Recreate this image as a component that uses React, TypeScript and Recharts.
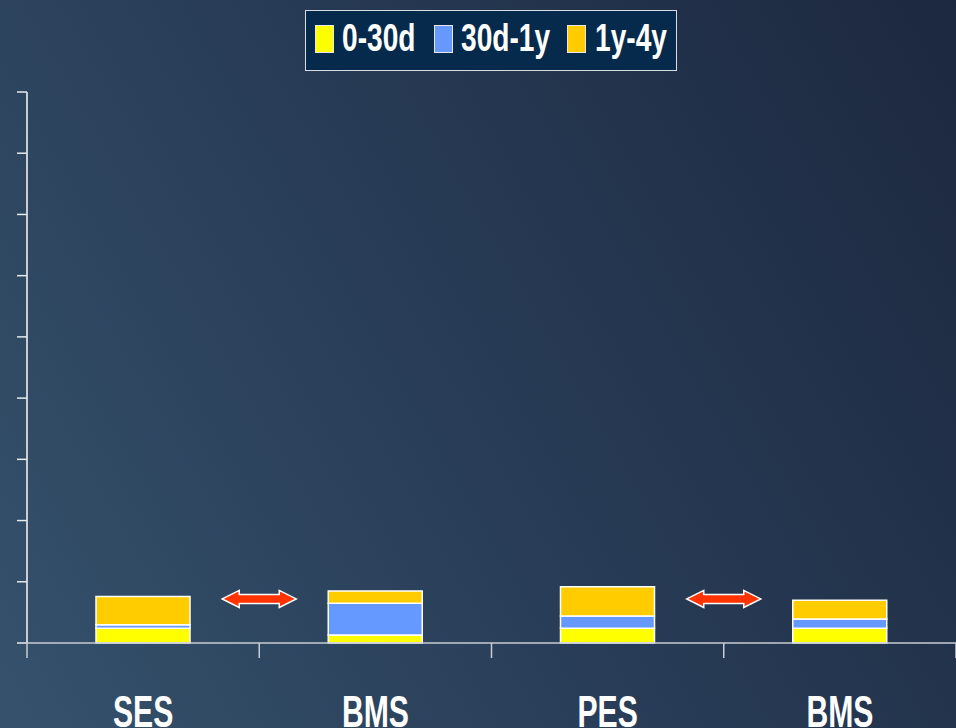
import React from "react";
import {
  ComposedChart,
  Bar,
  Scatter,
  XAxis,
  YAxis,
} from "recharts";

const groups = ["SES", "BMS", "PES", "BMS"];
const early = [1.2, 0.65, 1.2, 1.2];
const midTerm = [0.3, 2.6, 1.0, 0.75];
const late = [2.3, 1.0, 2.4, 1.55];
const yTicks = [0, 5, 10, 15, 20, 25, 30, 35, 40, 45];

// arrows sit on the boundaries between the paired groups
const comparePos = [1, 3];
const compareLevel = [3.6, 3.6];

const SERIES = [
  { key: "early", name: "0-30d", color: "#ffff00" },
  { key: "mid", name: "30d-1y", color: "#6699ff" },
  { key: "late", name: "1y-4y", color: "#ffcc00" },
];

const data = groups.map((g, i) => ({
  group: g,
  early: early[i],
  mid: midTerm[i],
  late: late[i],
}));

const arrows = comparePos.map((p, i) => ({ pos: p, level: compareLevel[i] }));

const FONT = "'Liberation Sans', Arial, sans-serif";

function Arrow(props: any) {
  const { cx, cy } = props;
  if (cx == null || cy == null) return null;
  const w = 37;
  const head = 17;
  const hh = 8.5;
  const sh = 4.5;
  const pts = [
    [cx - w, cy],
    [cx - w + head, cy - hh],
    [cx - w + head, cy - sh],
    [cx + w - head, cy - sh],
    [cx + w - head, cy - hh],
    [cx + w, cy],
    [cx + w - head, cy + hh],
    [cx + w - head, cy + sh],
    [cx - w + head, cy + sh],
    [cx - w + head, cy + hh],
  ]
    .map((p) => p.join(","))
    .join(" ");
  return <polygon points={pts} fill="#ff3300" stroke="#ffffff" strokeWidth={1.5} strokeLinejoin="miter" />;
}

// legend entries: swatch left edge and label left edge inside the box
const LEGEND_POS = [
  { sw: 9, tx: 36 },
  { sw: 128, tx: 155 },
  { sw: 261, tx: 289 },
];

function LegendBox() {
  return (
    <div
      style={{
        position: "absolute",
        left: 305,
        top: 10,
        width: 372,
        height: 61,
        boxSizing: "border-box",
        background: "#062a4c",
        border: "1px solid #d8dce4",
        fontFamily: FONT,
        fontWeight: 700,
        fontSize: 38,
        color: "#ffffff",
      }}
    >
      {SERIES.map((s, i) => (
        <React.Fragment key={s.key}>
          <span
            style={{
              position: "absolute",
              left: LEGEND_POS[i].sw,
              top: 14,
              width: 17,
              height: 26,
              background: s.color,
              border: "1px solid #e8e8e8",
            }}
          />
          <span
            style={{
              position: "absolute",
              left: LEGEND_POS[i].tx,
              top: 5,
              lineHeight: "44px",
              whiteSpace: "nowrap",
              transform: "scaleX(0.74)",
              transformOrigin: "left center",
            }}
          >
            {s.name}
          </span>
        </React.Fragment>
      ))}
    </div>
  );
}

function GroupTick(props: any) {
  const { x, y, payload } = props;
  return (
    <text
      transform={`translate(${x},${y + 75}) scale(0.67,1)`}
      textAnchor="middle"
      fill="#ffffff"
      fontFamily={FONT}
      fontWeight={700}
      fontSize={45}
    >
      {payload.value}
    </text>
  );
}

export default function App() {
  return (
    <div
      style={{
        position: "absolute",
        left: 0,
        top: 0,
        width: 956,
        height: 728,
        overflow: "hidden",
        background: "linear-gradient(60deg, #35526c 0%, #2a3f5a 40%, #1c283f 100%)",
      }}
    >
      <ComposedChart
        width={956}
        height={728}
        data={data}
        margin={{ top: 92, right: 0, bottom: 0, left: 17 }}
      >
        <YAxis
          yAxisId="v"
          width={10}
          domain={[0, 45]}
          ticks={yTicks}
          tickSize={10}
          stroke="#c8ccd4"
          tickLine={{ stroke: "#e8eaee", strokeWidth: 1.5 }}
          axisLine={{ stroke: "#c8ccd4", strokeWidth: 2 }}
          tickFormatter={() => ""}
        />
        {/* group names; sits under the boundary axis */}
        <XAxis
          xAxisId="b"
          dataKey="group"
          height={84}
          axisLine={false}
          tickLine={false}
          tick={<GroupTick />}
          interval={0}
        />
        {/* baseline with tick marks on the group boundaries */}
        <XAxis
          xAxisId="a"
          type="number"
          dataKey="pos"
          domain={[0, 4]}
          ticks={[0, 1, 2, 3, 4]}
          height={1}
          tickSize={15}
          stroke="#c8ccd4"
          axisLine={{ stroke: "#c8ccd4", strokeWidth: 1.5 }}
          tickLine={{ stroke: "#c8ccd4", strokeWidth: 1.5 }}
          tickFormatter={() => ""}
        />
        {SERIES.map((s) => (
          <Bar
            key={s.key}
            xAxisId="b"
            yAxisId="v"
            dataKey={s.key}
            name={s.name}
            stackId="a"
            fill={s.color}
            stroke="#ffffff"
            strokeWidth={1.5}
            barSize={94}
            isAnimationActive={false}
          />
        ))}
        <Scatter
          xAxisId="a"
          yAxisId="v"
          data={arrows}
          dataKey="level"
          shape={<Arrow />}
          legendType="none"
          isAnimationActive={false}
        />
      </ComposedChart>
      <LegendBox />
    </div>
  );
}
